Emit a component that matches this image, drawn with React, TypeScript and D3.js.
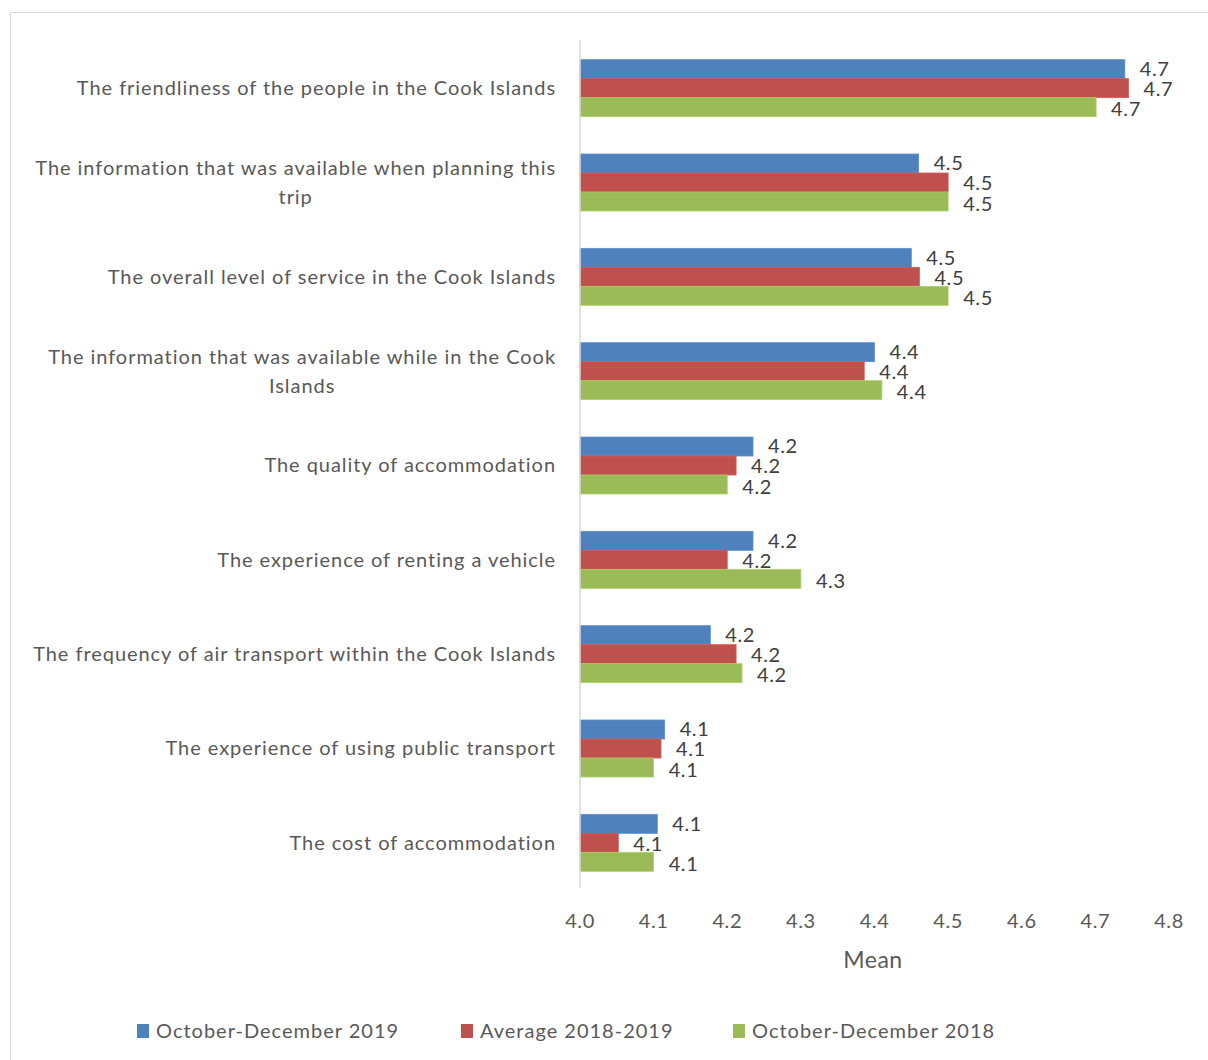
import React, { useEffect, useRef } from 'react';
import * as d3 from 'd3';

const categories = [
  'The friendliness of the people in the Cook Islands',
  'The information that was available when planning this trip',
  'The overall level of service in the Cook Islands',
  'The information that was available while in the Cook Islands',
  'The quality of accommodation',
  'The experience of renting a vehicle',
  'The frequency of air transport within the Cook Islands',
  'The experience of using public transport',
  'The cost of accommodation',
];

const seriesNames = ['October-December 2019', 'Average 2018-2019', 'October-December 2018'];
const seriesColors = ['#4f81bd', '#c0504d', '#9bbb59'];

const octDec2019 = [4.74, 4.46, 4.45, 4.4, 4.235, 4.235, 4.177, 4.115, 4.105];
const avg2018_2019 = [4.745, 4.5, 4.461, 4.386, 4.212, 4.2, 4.212, 4.11, 4.052];
const octDec2018 = [4.701, 4.5, 4.5, 4.41, 4.2, 4.3, 4.22, 4.1, 4.1];

const xTicks = [4.0, 4.1, 4.2, 4.3, 4.4, 4.5, 4.6, 4.7, 4.8];

const App: React.FC = () => {
  const svgRef = useRef<SVGSVGElement>(null);

  useEffect(() => {
    if (!svgRef.current) return;
    const width = 1208;
    const height = 1060;
    const font = 'Lato, "Open Sans", sans-serif';
    const textColor = '#595959';
    const series = [octDec2019, avg2018_2019, octDec2018];

    const svg = d3.select(svgRef.current)
      .attr('width', width)
      .attr('height', height)
      .html('');

    // chart frame
    svg.append('path')
      .attr('d', `M10.5,${height} V12.5 H${width}`)
      .attr('fill', 'none')
      .attr('stroke', '#d9d9d9')
      .attr('stroke-width', 1);

    const x = d3.scaleLinear().domain([4.0, 4.8]).range([580, 1169]);
    const y = d3.scaleBand<number>()
      .domain(d3.range(categories.length))
      .range([41, 890])
      .paddingInner(0.396)
      .paddingOuter(0.198);
    const inner = d3.scaleBand<number>()
      .domain(d3.range(series.length))
      .range([0, y.bandwidth()]);

    const groups = svg.selectAll('.grp')
      .data(categories)
      .enter()
      .append('g')
      .attr('class', 'grp')
      .attr('transform', (d, i) => `translate(0, ${y(i)})`);

    series.forEach((vals, s) => {
      groups.append('rect')
        .attr('x', x(4.0))
        .attr('y', inner(s)!)
        .attr('width', (d, i) => x(vals[i]) - x(4.0))
        .attr('height', inner.bandwidth())
        .attr('fill', seriesColors[s])
        .attr('stroke', d3.color(seriesColors[s])!.brighter(0.3).formatHex())
        .attr('stroke-width', 0.8);

      // data labels, spread a bit like the original
      groups.append('text')
        .attr('x', (d, i) => x(vals[i]) + 15)
        .attr('y', inner(s)! + inner.bandwidth() / 2 + 1 + (s - 1) * 1.2)
        .attr('dy', '0.35em')
        .attr('font-family', font)
        .attr('font-size', 20)
        .attr('letter-spacing', 0.6)
        .attr('fill', '#404040')
        .text((d, i) => vals[i].toFixed(1));
    });

    // axis line
    svg.append('line')
      .attr('x1', x(4.0)).attr('x2', x(4.0))
      .attr('y1', 40).attr('y2', 888)
      .attr('stroke', '#d9d9d9')
      .attr('stroke-width', 1.5);

    // category labels with wrapping
    const maxW = 545;
    const lineH = 29;
    groups.each(function (d) {
      const g = d3.select(this);
      const t = g.append('text')
        .attr('font-family', font)
        .attr('font-size', 20)
        .attr('letter-spacing', 0.95)
        .attr('fill', textColor);
      const words = d.split(' ');
      const lines: string[] = [];
      let cur: string[] = [];
      const probe = t.append('tspan');
      words.forEach(w => {
        const test = [...cur, w].join(' ');
        probe.text(test);
        if ((probe.node() as SVGTSpanElement).getComputedTextLength() > maxW && cur.length) {
          lines.push(cur.join(' '));
          cur = [w];
        } else {
          cur.push(w);
        }
      });
      lines.push(cur.join(' '));
      probe.remove();
      const widths = lines.map(l => {
        const p = t.append('tspan').text(l);
        const w = (p.node() as SVGTSpanElement).getComputedTextLength();
        p.remove();
        return w;
      });
      const blockW = d3.max(widths)!;
      const cx = 556 - blockW / 2;
      const mid = y.bandwidth() / 2;
      const top = mid - ((lines.length - 1) * lineH) / 2;
      lines.forEach((l, k) => {
        t.append('tspan')
          .attr('x', cx)
          .attr('y', top + k * lineH)
          .attr('dy', '0.35em')
          .attr('text-anchor', 'middle')
          .text(l);
      });
    });

    // x tick labels
    svg.append('g').selectAll('text')
      .data(xTicks)
      .enter()
      .append('text')
      .attr('x', d => x(d))
      .attr('y', 921)
      .attr('dy', '0.35em')
      .attr('text-anchor', 'middle')
      .attr('font-family', font)
      .attr('font-size', 20)
      .attr('letter-spacing', 0.6)
      .attr('fill', textColor)
      .text(d => d.toFixed(1));

    svg.append('text')
      .attr('x', 873)
      .attr('y', 960)
      .attr('dy', '0.35em')
      .attr('text-anchor', 'middle')
      .attr('font-family', font)
      .attr('font-size', 23)
      .attr('letter-spacing', 0.5)
      .attr('fill', textColor)
      .text('Mean');

    // legend
    const legendX = [137, 461, 733];
    const legend = svg.append('g').selectAll('g')
      .data(seriesNames)
      .enter()
      .append('g')
      .attr('transform', (d, i) => `translate(${legendX[i]}, 1031)`);
    legend.append('rect')
      .attr('x', 0).attr('y', -7)
      .attr('width', 12).attr('height', 14)
      .attr('fill', (d, i) => seriesColors[i]);
    legend.append('text')
      .attr('x', 19)
      .attr('y', 0)
      .attr('dy', '0.35em')
      .attr('font-family', font)
      .attr('font-size', 20)
      .attr('letter-spacing', 1.0)
      .attr('fill', textColor)
      .text(d => d);
  }, []);

  return (
    <div style={{ position: 'absolute', left: 0, top: 0, background: '#fff' }}>
      <svg ref={svgRef} style={{ display: 'block' }}></svg>
    </div>
  );
};

export default App;
